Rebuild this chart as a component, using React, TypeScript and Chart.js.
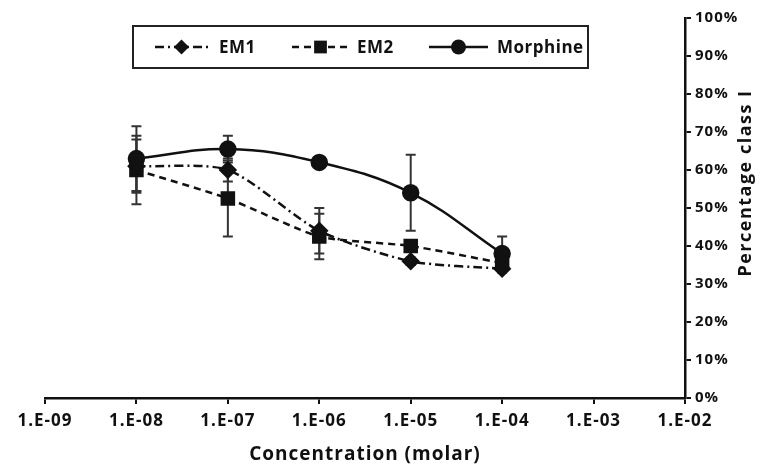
import React, { useEffect, useRef } from "react";
import { Chart, registerables } from "chart.js";

Chart.register(...registerables);

const concentrations = [1e-8, 1e-7, 1e-6, 1e-5, 1e-4];
const em1 = [61, 60, 44, 36, 34];
const em1Err = [7, 3, 6, 1, 1];
const em2 = [60, 52.5, 42.5, 40, 35.5];
const em2Err = [9, 10, 6, 1.5, 1];
const morphine = [63, 65.5, 62, 54, 38];
const morphineErr = [8.5, 3.5, 1.5, 10, 4.5];

const xTickValues = [1e-9, 1e-8, 1e-7, 1e-6, 1e-5, 1e-4, 1e-3, 1e-2];
const xTickLabels = ["1.E-09", "1.E-08", "1.E-07", "1.E-06", "1.E-05", "1.E-04", "1.E-03", "1.E-02"];

const seriesNames = ["EM1", "EM2", "Morphine"];
const FONT = "'Open Sans', sans-serif";
const INK = "#111";

const spacingPlugin = {
  id: "spacing",
  beforeDraw(chart: any) {
    chart.ctx.letterSpacing = "1px";
  },
  beforeUpdate(chart: any) {
    chart.ctx.letterSpacing = "1px";
  },
};

const errorBarPlugin = {
  id: "errorBars",
  beforeDatasetsDraw(chart: any) {
    const ctx = chart.ctx;
    const xs = chart.scales.x;
    const ys = chart.scales.y;
    const errs = [em1Err, em2Err, morphineErr];
    ctx.save();
    ctx.strokeStyle = "#333";
    ctx.lineWidth = 2;
    chart.data.datasets.forEach((ds: any, i: number) => {
      ds.data.forEach((p: any, j: number) => {
        const e = errs[i][j];
        const x = xs.getPixelForValue(p.x);
        const yt = ys.getPixelForValue(p.y + e);
        const yb = ys.getPixelForValue(p.y - e);
        ctx.beginPath();
        ctx.moveTo(x, yt);
        ctx.lineTo(x, yb);
        ctx.moveTo(x - 5, yt);
        ctx.lineTo(x + 5, yt);
        ctx.moveTo(x - 5, yb);
        ctx.lineTo(x + 5, yb);
        ctx.stroke();
      });
    });
    ctx.restore();
  },
};

const annotPlugin = {
  id: "annot",
  afterDraw(chart: any) {
    const ctx = chart.ctx;
    ctx.save();
    ctx.letterSpacing = "1.5px";
    ctx.fillStyle = INK;
    ctx.font = `bold 18px ${FONT}`;
    ctx.textAlign = "center";
    ctx.textBaseline = "middle";
    ctx.translate(746, 183);
    ctx.rotate(-Math.PI / 2);
    ctx.fillText("Percentage class I", 0, 0);
    ctx.restore();

    ctx.save();
    ctx.strokeStyle = "#222";
    ctx.lineWidth = 2;
    ctx.strokeRect(133, 26, 455, 42);
    const items = [
      { x0: 155, x1: 208, tx: 219, ds: chart.data.datasets[0] },
      { x0: 292, x1: 349, tx: 357, ds: chart.data.datasets[1] },
      { x0: 429, x1: 488, tx: 497, ds: chart.data.datasets[2] },
    ];
    const cy = 47;
    items.forEach((it, i) => {
      const ds = it.ds;
      ctx.strokeStyle = INK;
      ctx.lineWidth = 2.5;
      ctx.setLineDash(ds.borderDash || []);
      ctx.beginPath();
      ctx.moveTo(it.x0, cy);
      ctx.lineTo(it.x1, cy);
      ctx.stroke();
      ctx.setLineDash([]);
      const mx = (it.x0 + it.x1) / 2;
      ctx.fillStyle = INK;
      ctx.beginPath();
      if (ds.pointStyle === "rectRot") {
        const r = ds.pointRadius;
        ctx.moveTo(mx, cy - r);
        ctx.lineTo(mx + r, cy);
        ctx.lineTo(mx, cy + r);
        ctx.lineTo(mx - r, cy);
        ctx.closePath();
      } else if (ds.pointStyle === "rect") {
        const r = ds.pointRadius * 0.75;
        ctx.rect(mx - r, cy - r, 2 * r, 2 * r);
      } else {
        ctx.arc(mx, cy, ds.pointRadius, 0, Math.PI * 2);
      }
      ctx.fill();
      ctx.letterSpacing = "0.5px";
      ctx.font = `bold 17px ${FONT}`;
      ctx.textAlign = "left";
      ctx.textBaseline = "middle";
      ctx.fillText(seriesNames[i], it.tx, cy + 1);
    });
    ctx.restore();
  },
};

export default function App() {
  const ref = useRef<HTMLCanvasElement | null>(null);
  useEffect(() => {
    document.body.style.margin = "0";
    const mk = (vals: number[]) => vals.map((v, i) => ({ x: concentrations[i], y: v }));
    const chart = new Chart(ref.current as HTMLCanvasElement, {
      type: "line",
      data: {
        datasets: [
          {
            label: seriesNames[0],
            data: mk(em1),
            borderColor: INK,
            backgroundColor: INK,
            borderWidth: 2.5,
            borderDash: [9, 4, 2, 4],
            pointStyle: "rectRot",
            pointRadius: 7.5,
            tension: 0.25,
          },
          {
            label: seriesNames[1],
            data: mk(em2),
            borderColor: INK,
            backgroundColor: INK,
            borderWidth: 2.5,
            borderDash: [7, 5],
            pointStyle: "rect",
            pointRadius: 8.5,
            tension: 0.2,
          },
          {
            label: seriesNames[2],
            data: mk(morphine),
            borderColor: INK,
            backgroundColor: INK,
            borderWidth: 2.5,
            pointStyle: "circle",
            pointRadius: 7.5,
            tension: 0.4,
          },
        ],
      } as any,
      options: {
        animation: false,
        responsive: true,
        maintainAspectRatio: false,
        layout: { padding: { left: 45, top: 18, right: 0, bottom: 0 } },
        plugins: { legend: { display: false }, tooltip: { enabled: false } },
        scales: {
          x: {
            type: "logarithmic",
            min: 1e-9,
            max: 1e-2,
            afterBuildTicks: (s: any) => {
              s.ticks = xTickValues.map((v) => ({ value: v }));
            },
            afterFit: (s: any) => {
              s.height = 75;
            },
            ticks: {
              autoSkip: false,
              maxRotation: 0,
              color: INK,
              font: { family: FONT, size: 17, weight: "bold" },
              padding: 7,
              callback: (v: any, i: number) => xTickLabels[i],
            },
            grid: { drawOnChartArea: false, tickLength: 6, color: INK, lineWidth: 2 },
            border: { color: INK, width: 2.5 },
            title: {
              display: true,
              text: "Concentration (molar)",
              color: INK,
              font: { family: FONT, size: 19, weight: "bold" },
              padding: { top: 4, bottom: 7 },
            },
          },
          y: {
            position: "right",
            min: 0,
            max: 100,
            afterFit: (s: any) => {
              s.width = 77;
            },
            ticks: {
              stepSize: 10,
              color: INK,
              font: { family: FONT, size: 15, weight: "bold" },
              padding: 4,
              callback: (v: any) => v + "%",
            },
            grid: { drawOnChartArea: false, tickLength: 6, color: INK, lineWidth: 2 },
            border: { color: INK, width: 2.5 },
          },
        },
      } as any,
      plugins: [spacingPlugin, errorBarPlugin, annotPlugin],
    });
    return () => chart.destroy();
  }, []);
  return (
    <div style={{ position: "absolute", left: 0, top: 0, width: 762, height: 473, background: "#fff" }}>
      <canvas ref={ref} />
    </div>
  );
}
